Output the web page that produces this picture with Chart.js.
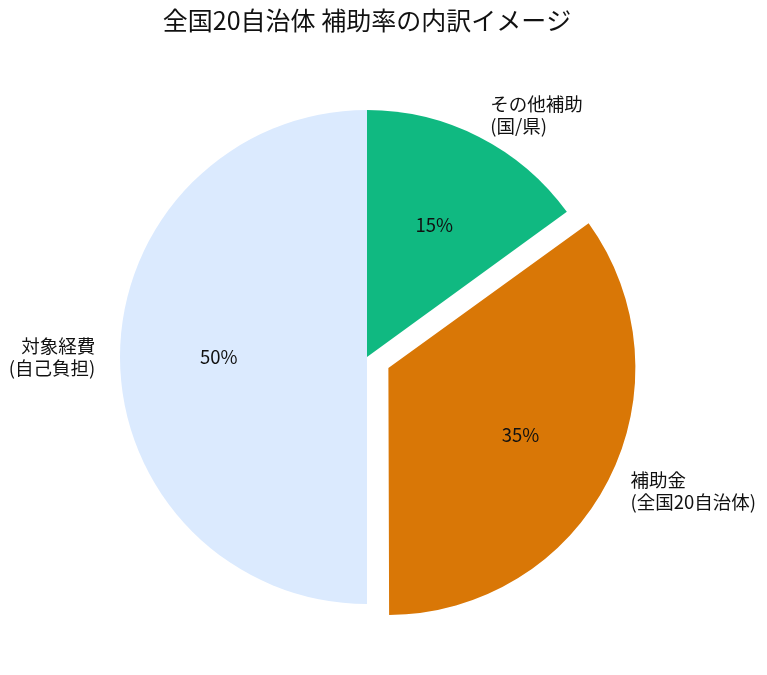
<!DOCTYPE html>
<html>
<head>
<meta charset="utf-8">
<script src="https://cdn.jsdelivr.net/npm/chart.js@4"></script>
<style>
  html, body { margin: 0; padding: 0; background: #fff; }
  #wrap { width: 767px; height: 675px; }
</style>
</head>
<body>
<div id="wrap"><canvas id="myChart"></canvas></div>
<script>
const labels = ["その他補助\n(国/県)", "補助金\n(全国20自治体)", "対象経費\n(自己負担)"];
const shares = [15, 35, 50];
const colors = ["#10b981", "#d97706", "#dbeafe"];
const explodeIndex = 1;

const FONT = '"Noto Sans CJK JP", "Noto Sans", sans-serif';
const RADIUS = 247;
const OFFSET = 96; // chart.js moves the arc by offset / 4

// keep the exploded slice at the same radius as the rest
const fixRadius = {
  id: "fixRadius",
  afterDatasetsUpdate(chart) {
    const arc = chart.getDatasetMeta(0).data[explodeIndex];
    const fix = 1 - Math.sin(Math.min(Math.PI, arc.circumference));
    arc.outerRadius = RADIUS - (OFFSET / 4) * fix;
  },
};

const pieLabels = {
  id: "pieLabels",
  afterDatasetsDraw(chart) {
    const ctx = chart.ctx;
    const meta = chart.getDatasetMeta(0);
    const total = shares.reduce((a, b) => a + b, 0);
    ctx.save();
    ctx.fillStyle = "#111";
    ctx.font = "18.5px " + FONT;
    meta.data.forEach((arc, i) => {
      const mid = (arc.startAngle + arc.endAngle) / 2;
      const c = Math.cos(mid), s = Math.sin(mid);
      const shift = i === explodeIndex ? OFFSET / 4 : 0;
      const ox = arc.x + c * shift, oy = arc.y + s * shift;
      // percentage inside
      ctx.textAlign = "center";
      ctx.textBaseline = "middle";
      const pct = Math.round((shares[i] / total) * 100) + "%";
      ctx.fillText(pct, ox + c * RADIUS * 0.6, oy + s * RADIUS * 0.6);
      // category label outside
      const lx = ox + c * RADIUS * 1.1, ly = oy + s * RADIUS * 1.1;
      ctx.textAlign = Math.abs(c) < 0.01 ? "center" : (c > 0 ? "left" : "right");
      const lines = labels[i].split("\n");
      const lh = 22;
      lines.forEach((line, k) => {
        ctx.fillText(line, lx, ly + (k - (lines.length - 1) / 2) * lh);
      });
    });
    ctx.restore();
  },
};

new Chart(document.getElementById("myChart"), {
  type: "pie",
  data: {
    labels: labels,
    datasets: [
      {
        data: shares,
        backgroundColor: colors,
        borderWidth: 0,
        offset: shares.map((v, i) => (i === explodeIndex ? OFFSET : 0)),
      },
    ],
  },
  options: {
    responsive: true,
    maintainAspectRatio: false,
    animation: false,
    radius: RADIUS,
    layout: { padding: { left: 0, right: 33, top: 0, bottom: 0 } },
    plugins: {
      legend: { display: false },
      tooltip: { enabled: false },
      title: {
        display: true,
        text: "全国20自治体 補助率の内訳イメージ",
        color: "#111",
        font: { family: FONT, size: 25, weight: "normal" },
        padding: { top: 5, bottom: 4 },
      },
    },
  },
  plugins: [fixRadius, pieLabels],
});
</script>
</body>
</html>
